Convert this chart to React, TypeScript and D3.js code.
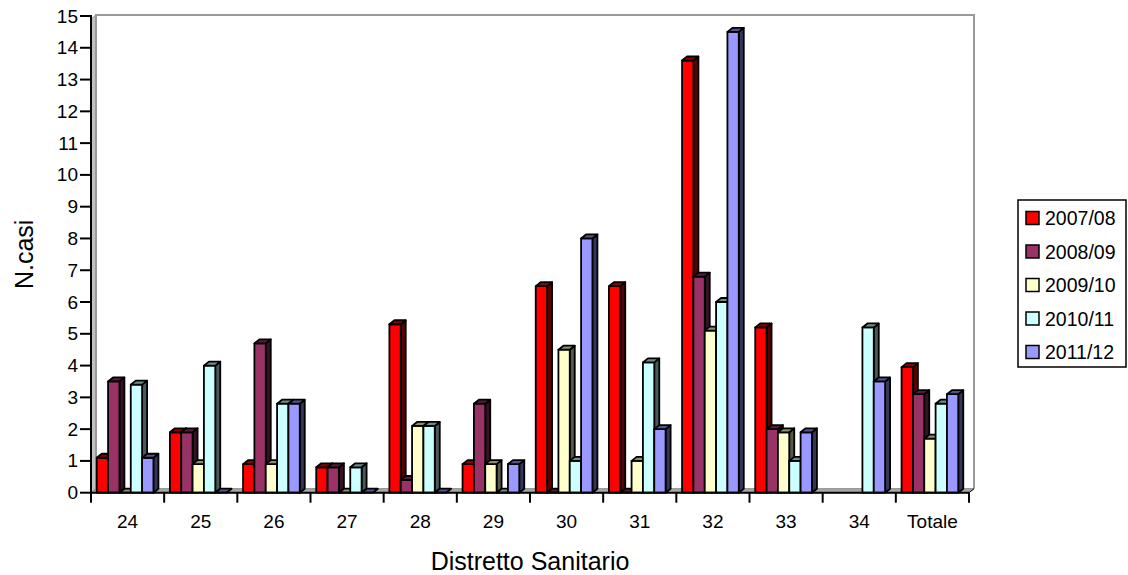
import * as d3 from 'd3';
import React from 'react';

// categorie (distretti) e serie (stagioni)
const categories = ['24', '25', '26', '27', '28', '29', '30', '31', '32', '33', '34', 'Totale'];
const seasons = ['2007/08', '2008/09', '2009/10', '2010/11', '2011/12'];
const colors = ['#FF0000', '#993366', '#FFFFCC', '#CCFFFF', '#9999FF'];

// valori (null = nessun dato)
const s2007 = [1.1, 1.9, 0.9, 0.8, 5.3, 0.9, 6.5, 6.5, 13.6, 5.2, null, 3.95];
const s2008 = [3.5, 1.9, 4.7, 0.8, 0.4, 2.8, 0, 0, 6.8, 2.0, null, 3.1];
const s2009 = [0, 0.9, 0.9, 0, 2.1, 0.9, 4.5, 1.0, 5.1, 1.9, null, 1.7];
const s2010 = [3.4, 4.0, 2.8, 0.8, 2.1, 0, 1.0, 4.1, 6.0, 1.0, 5.2, 2.8];
const s2011 = [1.1, 0, 2.8, 0, 0, 0.9, 8.0, 2.0, 14.5, 1.9, 3.5, 3.1];
const yTicks = d3.range(0, 16);

const allSeries = [s2007, s2008, s2009, s2010, s2011];

const W = 1128;
const H = 575;
const left = 91;
const right = 969;
const bottom = 492.7;
const top = 16;
const dx = 5; // profondità 3D
const dy = 4;
const font = 'Liberation Sans, Arial, sans-serif';

const shade = (c: string, k: number) => {
    const rgb = d3.rgb(c);
    return d3.rgb(rgb.r * k, rgb.g * k, rgb.b * k).formatHex();
};

const App: React.FC = () => {
    const x = d3.scaleBand<string>().domain(categories).range([left, right]).padding(0);
    const y = d3.scaleLinear().domain([0, 15]).range([bottom, top]);
    const bw = x.bandwidth();
    const groupW = bw * 0.775;
    const offset = (bw - groupW - dx) / 2;
    const xs = d3.scaleBand<string>().domain(seasons).range([0, groupW]).padding(0);
    const w = xs.bandwidth();

    const poly = (pts: [number, number][]) => pts.map((p) => p.join(',')).join(' ');

    const bars: React.ReactNode[] = [];
    categories.forEach((cat, ci) => {
        allSeries.forEach((vals, si) => {
            const v = vals[ci];
            if (v === null || v === undefined) return;
            const x0 = (x(cat) ?? 0) + offset + (xs(seasons[si]) ?? 0);
            const x1 = x0 + w;
            const yt = y(v);
            const y0 = y(0);
            const c = colors[si];
            bars.push(
                <g key={`${ci}-${si}`} stroke="#000" strokeWidth={1.8} strokeLinejoin="round">
                    {v > 0 && (
                        <polygon
                            points={poly([[x1, yt], [x1 + dx, yt - dy], [x1 + dx, y0 - dy], [x1, y0]])}
                            fill={shade(c, 0.35)}
                        />
                    )}
                    {v > 0 && <rect x={x0} y={yt} width={w} height={y0 - yt} fill={c} />}
                    <polygon
                        points={poly([[x0, yt], [x1, yt], [x1 + dx, yt - dy], [x0 + dx, yt - dy]])}
                        fill={shade(c, 0.55)}
                    />
                </g>
            );
        });
    });

    return (
        <svg width={W} height={H} style={{ position: 'absolute', left: 0, top: 0, background: '#fff' }}>
            {/* pareti */}
            <polygon
                points={poly([[left, bottom], [left, top + 3], [left + dx, top - 1], [left + dx, bottom - dy]])}
                fill="#c0c0c0"
                stroke="#999"
                strokeWidth={1}
            />
            <polygon
                points={poly([[left, bottom], [right, bottom], [right + dx, bottom - dy], [left + dx, bottom - dy]])}
                fill="#a8a8a8"
                stroke="#888"
                strokeWidth={1}
            />
            <polyline
                points={poly([[left + dx, bottom - dy], [left + dx, top - 1], [right + dx, top - 1], [right + dx, bottom - dy]])}
                fill="none"
                stroke="#999"
                strokeWidth={2}
            />

            {bars}

            {/* asse Y */}
            <line x1={left} x2={left} y1={top - 1} y2={bottom} stroke="#000" strokeWidth={2} />
            {yTicks.map((t) => (
                <g key={t}>
                    <line x1={left - 11} x2={left} y1={y(t)} y2={y(t)} stroke="#000" strokeWidth={2} />
                    <text
                        x={left - 13}
                        y={y(t)}
                        textAnchor="end"
                        dominantBaseline="central"
                        fontFamily={font}
                        fontSize={19}
                    >
                        {t}
                    </text>
                </g>
            ))}

            {/* asse X */}
            <line x1={left} x2={right} y1={bottom} y2={bottom} stroke="#000" strokeWidth={2} />
            <line x1={right} x2={right + dx} y1={bottom} y2={bottom - dy} stroke="#000" strokeWidth={1} />
            {[...categories.map((c) => x(c) ?? 0), right].map((xv, i) => (
                <line key={i} x1={xv} x2={xv} y1={bottom} y2={bottom + 10} stroke="#000" strokeWidth={2} />
            ))}
            {categories.map((c) => (
                <text
                    key={c}
                    x={(x(c) ?? 0) + bw / 2}
                    y={528}
                    textAnchor="middle"
                    fontFamily={font}
                    fontSize={19}
                >
                    {c}
                </text>
            ))}

            {/* titoli */}
            <text x={530} y={570} textAnchor="middle" fontFamily={font} fontSize={25}>
                Distretto Sanitario
            </text>
            <text
                transform={`translate(33, ${(top + bottom) / 2}) rotate(-90)`}
                textAnchor="middle"
                fontFamily={font}
                fontSize={25}
            >
                N.casi
            </text>

            {/* legenda */}
            <rect x={1018} y={200} width={108} height={167} fill="#fff" stroke="#000" strokeWidth={1.5} />
            {seasons.map((s, i) => {
                const cy = 218 + i * 33.5;
                return (
                    <g key={s}>
                        <rect x={1026} y={cy - 6.5} width={13} height={13} fill={colors[i]} stroke="#000" strokeWidth={1.5} />
                        <text x={1045} y={cy} dominantBaseline="central" fontFamily={font} fontSize={19.5}>
                            {s}
                        </text>
                    </g>
                );
            })}
        </svg>
    );
};

export default App;
